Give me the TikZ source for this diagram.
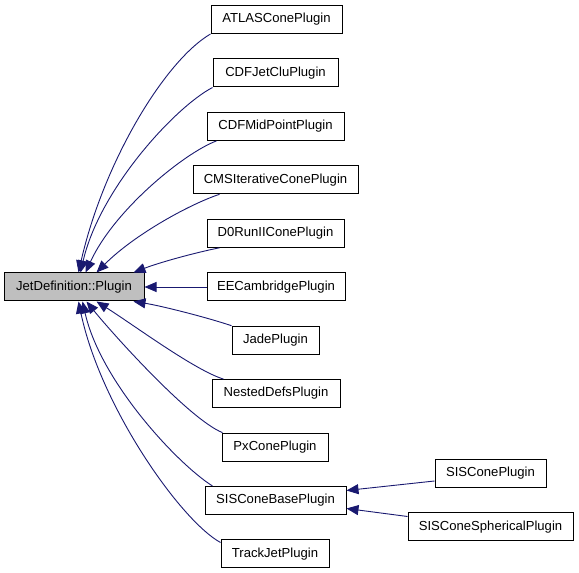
\documentclass[tikz,border=0pt]{standalone}
\usepackage{fontspec}
\setmainfont{Liberation Sans}
\usetikzlibrary{arrows.meta}
\definecolor{edgecol}{HTML}{191970}
\definecolor{maingray}{HTML}{BFBFBF}
\tikzset{
  cls/.style={draw=black, line width=1pt, fill=white, minimum height=28pt, inner sep=0pt, font=\fontsize{13.1pt}{14pt}\selectfont},
  mainbox/.style={cls, fill=maingray},
  inh/.style={draw=edgecol, line width=0.9pt, -{Triangle[length=12pt,width=10pt]}, edgecol}
}
\begin{document}
\begin{tikzpicture}[x=1pt,y=1pt]
\useasboundingbox (0,0) rectangle (579,573);
\node[mainbox, minimum width=140pt] (main) at (74,286) {JetDefinition::Plugin};
\node[cls, minimum width=131pt] (atlas) at (276.5,553.5) {ATLASConePlugin};
\node[cls, minimum width=125pt] (cdfjc) at (275.5,500) {CDFJetCluPlugin};
\node[cls, minimum width=137pt] (cdfmp) at (275.5,446.6) {CDFMidPointPlugin};
\node[cls, minimum width=165pt] (cms) at (275.5,393.2) {CMSIterativeConePlugin};
\node[cls, minimum width=137pt] (dzero) at (275.5,339.7) {D0RunIIConePlugin};
\node[cls, minimum width=138pt] (ee) at (276,286) {EECambridgePlugin};
\node[cls, minimum width=87pt] (jade) at (275.5,232.8) {JadePlugin};
\node[cls, minimum width=128pt] (nested) at (276,179.4) {NestedDefsPlugin};
\node[cls, minimum width=106pt] (pxcone) at (275,125.9) {PxConePlugin};
\node[cls, minimum width=141pt] (sisbase) at (275.5,72.5) {SISConeBasePlugin};
\node[cls, minimum width=108pt] (trackjet) at (275,19) {TrackJetPlugin};
\node[cls, minimum width=111pt] (siscone) at (490.5,99.5) {SISConePlugin};
\node[cls, minimum width=165pt] (sisspher) at (490.5,46) {SISConeSphericalPlugin};

\draw[inh] (atlas.south west) .. controls +(-46,-27) and +(25,110) .. ([xshift=75pt]main.north west);
\draw[inh] (cdfjc.south west) .. controls +(-38,-20) and +(19,83) .. ([xshift=77pt]main.north west);
\draw[inh] ([xshift=10pt]cdfmp.south west) .. controls +(-32,-12) and +(29,63) .. ([xshift=82pt]main.north west);
\draw[inh] ([xshift=27pt]cms.south west) .. controls +(-30,-10) and +(38,38) .. ([xshift=93pt]main.north west);
\draw[inh] ([xshift=13pt]dzero.south west) .. controls +(-25,-5) and +(26,10) .. ([xshift=130pt]main.north west);
\draw[inh] (ee.west) -- (main.east);
\draw[inh] (jade.north west) .. controls +(-27,9) and +(26,-4) .. ([xshift=130pt]main.south west);
\draw[inh] ([xshift=12pt]nested.north west) .. controls +(-29,9) and +(38,-24) .. ([xshift=93pt]main.south west);
\draw[inh] ([xshift=1pt]pxcone.north west) .. controls +(-33,13) and +(25,-31) .. ([xshift=83pt]main.south west);
\draw[inh] ([xshift=8pt]sisbase.north west) .. controls +(-35,22) and +(18,-80) .. ([xshift=79pt]main.south west);
\draw[inh] ([yshift=-3pt]trackjet.north west) .. controls +(-40,22) and +(22,-105) .. ([xshift=75pt]main.south west);
\draw[inh] ([yshift=7pt]siscone.south west) -- ([yshift=10pt]sisbase.east);
\draw[inh] ([yshift=-4pt]sisspher.north west) -- ([yshift=-8pt]sisbase.east);
\end{tikzpicture}
\end{document}
